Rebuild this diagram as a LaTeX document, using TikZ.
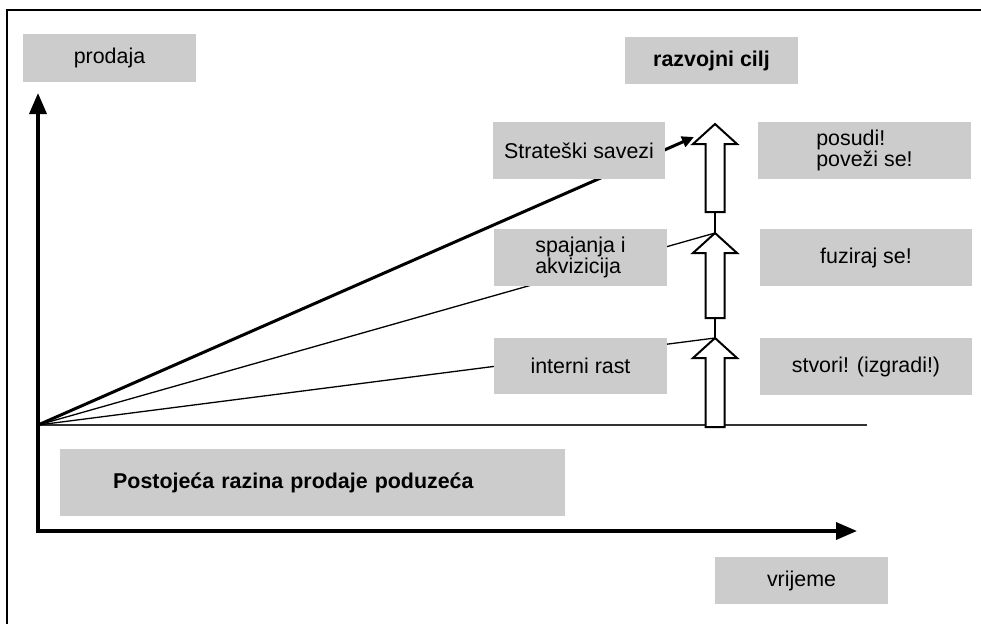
\documentclass[tikz,border=0pt]{standalone}
\usepackage{fontspec}
\setmainfont{Liberation Sans}
\usetikzlibrary{arrows.meta}
\definecolor{boxgray}{RGB}{204,204,204}

\begin{document}
\begin{tikzpicture}[x=1pt, y=-1pt,
    every node/.style={font=\fontsize{21.4}{20.5}\selectfont},
    greybox/.style={fill=boxgray, inner sep=0pt, align=left},
    axis/.style={line width=3.5pt},
    growth/.style={line width=1.3pt},
    blockarrow/.style={draw, line width=2pt, fill=white, line join=miter}]
\useasboundingbox (0,0) rectangle (981,624);
% frame (only top and left edges are inside the picture)
\draw[line width=1.8pt] (7,624) -- (7,10) -- (981,10);

\coordinate (origin) at (38,425);
\coordinate (ytip) at (38,93);
\coordinate (xtip) at (857,531);
\coordinate (levelend) at (867,425);
\coordinate (goalA) at (694,137);
\coordinate (goalB) at (715,233);
\coordinate (goalC) at (715,338);

% axes
\draw[axis, {Triangle[length=21pt,width=17pt]}-{Triangle[length=21pt,width=17pt]}] (ytip) |- (xtip);
% current level of sales
\draw[line width=1.5pt, black!80] (origin) -- (levelend);
% growth lines
\draw[line width=3pt, -{Triangle[length=12pt,width=11pt]}] (origin) -- (goalA);
\draw[growth] (origin) -- (goalB);
\draw[growth] (origin) -- (goalC);
\draw[growth] (715,212) -- (goalB);
\draw[growth] (715,318) -- (goalC);

% block arrows
\foreach \tip/\bot in {124/212, 233/318, 338/427}
  \draw[blockarrow] (705.5,\bot) -- (705.5,\tip+20) -- (693,\tip+20) -- (715,\tip)
    -- (737,\tip+20) -- (724.5,\tip+20) -- (724.5,\bot) -- cycle;

% labels
\node[greybox, minimum width=173pt, minimum height=48pt] (prodaja) at (109.5,58) {prodaja};
\node[greybox, minimum width=173pt, minimum height=47pt] (cilj) at (711.5,60.5) {\bfseries razvojni cilj};
\node[greybox, minimum width=172pt, minimum height=57pt] (savezi) at (579,150.5) {Strateški savezi};
\node[greybox, minimum width=173pt, minimum height=57pt] (spajanja) at (580.5,257.5) {spajanja i\\akvizicija};
\node[greybox, minimum width=173pt, minimum height=56pt] (interni) at (580.5,366) {interni rast};
\node[greybox, minimum width=213pt, minimum height=57pt] (posudi) at (864.5,150.5) {posudi!\\poveži se!};
\node[greybox, minimum width=212pt, minimum height=57pt] (fuziraj) at (866,257.5) {fuziraj se!};
\node[greybox, minimum width=212pt, minimum height=57pt] (stvori) at (866,366.5) {stvori! (izgradi!)};
\node[greybox, anchor=west, text width=399pt, inner xsep=53pt, minimum height=67pt] (razina) at (60,482.5) {\bfseries Postojeća razina prodaje poduzeća};
\node[greybox, minimum width=173pt, minimum height=47pt] (vrijeme) at (801.5,580.5) {vrijeme};
\end{tikzpicture}
\end{document}
